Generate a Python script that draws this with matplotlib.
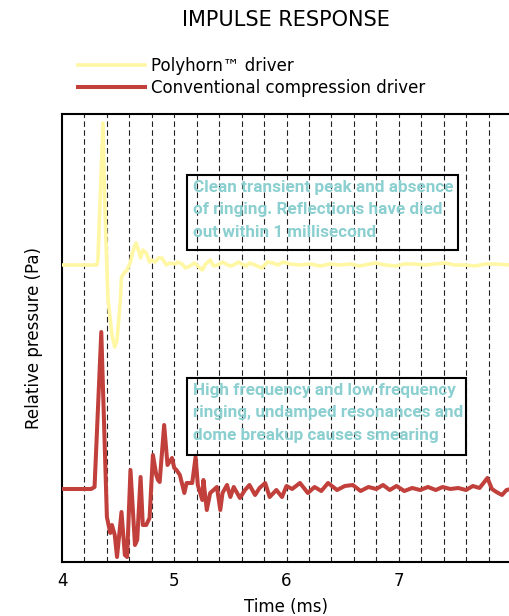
import matplotlib
matplotlib.use('Agg')
import matplotlib.pyplot as plt
from matplotlib.patches import Rectangle

# time axis in ms, amplitude in arbitrary pressure units (relative to each trace's rest level)
poly_t = [4.00, 4.31, 4.32, 4.365, 4.38, 4.41, 4.445, 4.47, 4.49, 4.52, 4.53, 4.56,
          4.58, 4.61, 4.63, 4.66, 4.68, 4.70, 4.72, 4.75, 4.78, 4.80, 4.83, 4.86,
          4.89, 4.93, 4.96, 5.01, 5.03, 5.07, 5.10, 5.14, 5.18, 5.21, 5.25, 5.28,
          5.32, 5.35, 5.39, 5.43, 5.46, 5.50, 5.53, 5.57, 5.60, 5.64, 5.67, 5.72,
          5.78, 5.83, 5.88, 5.92, 5.97, 6.03, 6.12, 6.21, 6.30, 6.39, 6.48, 6.57,
          6.65, 6.79, 6.88, 6.97, 7.05, 7.14, 7.23, 7.32, 7.41, 7.50, 7.59, 7.68,
          7.77, 7.86, 8.00]
poly_p = [0, 0, 5, 142, 65, -35, -70, -82, -75, -35, -12, -7,
          -5, 3, 13, 22, 15, 7, 15, 12, 3, 5, 3, 7,
          7, 0, 2, 1, 3, 1, -3, -1, 2, -1, -5, 1,
          5, -1, 0, 3, 1, -1, 0, 3, 1, -1, 2, 0,
          -3, 3, 2, 0, 3, 1, 0, 1, -1, 1, 0, 1,
          -1, 2, 0, -1, 1, 1, 0, 1, 2, 0, 0, -1,
          1, 1, 0]

conv_t = [4.00, 4.26, 4.29, 4.35, 4.40, 4.43, 4.445, 4.47, 4.49, 4.53, 4.56, 4.58,
          4.61, 4.65, 4.67, 4.70, 4.72, 4.75, 4.78, 4.81, 4.84, 4.855, 4.87, 4.91,
          4.94, 4.98, 5.00, 5.02, 5.05, 5.09, 5.11, 5.16, 5.19, 5.21, 5.25, 5.26,
          5.29, 5.32, 5.35, 5.38, 5.41, 5.43, 5.47, 5.50, 5.53, 5.585, 5.63, 5.67,
          5.72, 5.76, 5.81, 5.85, 5.91, 5.96, 6.00, 6.05, 6.12, 6.19, 6.25, 6.31,
          6.37, 6.45, 6.52, 6.59, 6.66, 6.73, 6.80, 6.86, 6.92, 6.98, 7.05, 7.12,
          7.19, 7.26, 7.33, 7.39, 7.46, 7.53, 7.60, 7.66, 7.72, 7.79, 7.83, 7.87,
          7.92, 7.96, 8.00]
conv_p = [0, 0, 2, 157, -28, -44, -36, -46, -68, -23, -66, -68,
          19, -56, -51, 12, -36, -36, -29, 34, 14, 9, 7, 64,
          24, 31, 21, 19, 14, -4, 6, 6, 32, 4, -11, 9,
          -21, -4, -1, 2, -21, -4, 4, -8, 2, -9, -1, 4,
          -6, 1, 6, -8, -1, -8, 3, 0, 6, -4, 2, -2,
          6, -1, 3, 4, -2, 2, 0, 4, -1, 3, -2, 1,
          -1, 2, -1, 2, 0, 1, -1, 3, 1, 11, 0, -3,
          -6, -1, 0]

poly_offset = 297
conv_offset = 73

grid_t = [4.2 + 0.2 * i for i in range(19)]
tick_t = [4, 5, 6, 7]

fig = plt.figure(figsize=(5.09, 6.16), dpi=100)
ax = fig.add_axes([62 / 509, 54 / 616, 449 / 509, 448 / 616])

for t in grid_t:
    ax.axvline(t, color='#222222', lw=0.8, dashes=(5, 3), zorder=1)

ax.plot(poly_t, [p + poly_offset for p in poly_p], color='#FFF7A3', lw=2.6,
        solid_joinstyle='round', zorder=3, label='Polyhorn\u2122 driver')
ax.plot(conv_t, [p + conv_offset for p in conv_p], color='#C1403B', lw=2.9,
        solid_joinstyle='round', zorder=3, label='Conventional compression driver')

ax.set_xlim(4, 8)
ax.set_ylim(0, 448)
ax.set_xticks(tick_t)
ax.set_xticklabels([str(t) for t in tick_t])
ax.set_yticks([])
ax.tick_params(axis='x', length=0, pad=7, labelsize=12)
for s in ['left', 'top', 'bottom']:
    ax.spines[s].set_linewidth(1.5)
ax.spines['right'].set_visible(False)

ax.set_xlabel('Time (ms)', fontsize=12, labelpad=6)
ax.set_ylabel('Relative pressure (Pa)', fontsize=12, labelpad=14)

boxes = [
    ((0.278, 0.696), 0.604, 0.168, 0.853,
     'Clean transient peak and absence\nof ringing. Reflections have died\nout within 1 millisecond'),
    ((0.278, 0.239), 0.622, 0.172, 0.400,
     'High frequency and low frequency\nringing, undamped resonances and\ndome breakup causes smearing'),
]
for (x0, y0), w, h, ty, txt in boxes:
    ax.add_patch(Rectangle((x0, y0), w, h, transform=ax.transAxes, fill=False,
                           edgecolor='black', lw=1.5, zorder=4))
    ax.text(0.292, ty, txt, transform=ax.transAxes, va='top', ha='left',
            color='#8BCFD0', fontsize=12.3, fontweight='bold',
            family='Roboto', linespacing=1.63, zorder=5)

fig.text(0.561, 1 - 20 / 616, 'IMPULSE RESPONSE', ha='center', va='center', fontsize=15)
fig.legend(loc='upper left', bbox_to_anchor=(78 / 509, 1 - 57 / 616), frameon=False,
           fontsize=12, handlelength=4, handletextpad=0.4, borderpad=0,
           borderaxespad=0, labelspacing=0.25)

fig.savefig('out.png', dpi=100)
